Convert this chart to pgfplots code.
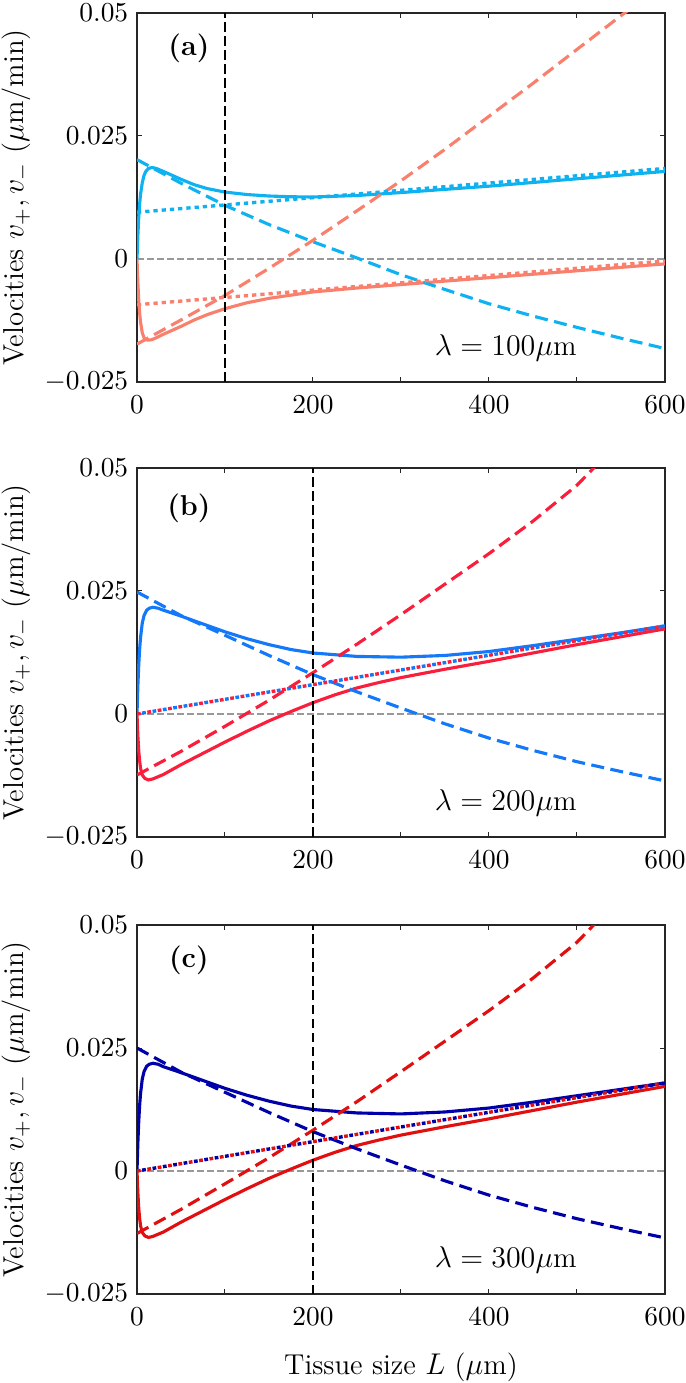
\documentclass[border=0pt]{standalone}
\usepackage{pgfplots}
\pgfplotsset{compat=1.18}
\definecolor{ablue}{RGB}{15,178,240}
\definecolor{ared}{RGB}{250,128,110}
\definecolor{bblue}{RGB}{20,120,250}
\definecolor{bred}{RGB}{250,30,60}
\definecolor{cblue}{RGB}{0,0,170}
\definecolor{cred}{RGB}{225,15,15}
\pgfplotsset{
 panel/.style={
  scale only axis, width=211.2pt, height=147.6pt,
  xmin=0,xmax=600,ymin=-0.025,ymax=0.05,
  xtick={0,200,400,600}, minor xtick={100,300,500},
  ytick={-0.025,0,0.025,0.05},
  yticklabels={$-0.025$,$0$,$0.025$,$0.05$},
  scaled y ticks=false,
  tick align=inside,
  major tick length=2pt, minor tick length=2pt,
  tick style={black!85, line width=0.4pt},
  axis line style={black!85, line width=0.5pt},
  ticklabel style={font=\fontsize{11}{13}\selectfont},
  xticklabel style={yshift=-2pt},
  ylabel={Velocities $v_+, v_-$ ($\mu$m/min)},
  ylabel style={font=\fontsize{11.5}{13}\selectfont, at={(axis description cs:-0.229,0.5)}, anchor=center},
  clip=true,
 },
 sol/.style={solid, line width=1.25pt},
 dsh/.style={dash pattern=on 5.2pt off 2.6pt, line width=1.25pt},
 dot/.style={dash pattern=on 1.7pt off 1.6pt, line width=1.35pt},
 dotr/.style={dash pattern=on 1.5pt off 2.7pt, line width=1.35pt},
 dotb/.style={dash pattern=on 1.5pt off 2.7pt, dash phase=2.1pt, line width=1.35pt},
 zero/.style={gray!80, line width=0.5pt, dash pattern=on 2.6pt off 1.4pt},
 vline/.style={black, line width=0.8pt, dash pattern=on 3.8pt off 1.8pt},
}
\begin{document}
\begin{tikzpicture}
% ---------------- panel (a) ----------------
\begin{axis}[panel, name=pa, at={(0,0)}, anchor=north west]
\addplot[zero] coordinates {(0,0) (600,0)};
% solid
\addplot[sol, ablue] coordinates {
(0,0) (1,0.0048) (2,0.0085) (3,0.0112) (4,0.0131) (6,0.0155) (8,0.0170) (10,0.0178) (13,0.0184) (17,0.0186) (22,0.0184)
(30,0.0178) (40,0.0170) (50,0.0162) (65,0.0151) (80,0.0143) (100,0.0136) (125,0.0131) (150,0.0128) (175,0.01265)
(200,0.0126) (250,0.0129) (300,0.0135) (350,0.01415) (400,0.0148) (450,0.01555) (500,0.0163) (550,0.01705) (600,0.0178)};
\addplot[sol, ared] coordinates {
(0,0) (1,-0.0048) (2,-0.0085) (3,-0.0110) (4,-0.0128) (6,-0.0150) (8,-0.0160) (10,-0.0164) (13,-0.0165) (17,-0.0164) (22,-0.0160)
(30,-0.0153) (40,-0.0145) (50,-0.0137) (65,-0.0124) (80,-0.0113) (100,-0.0101) (125,-0.0089) (150,-0.0080)
(200,-0.0067) (250,-0.0059) (300,-0.0052) (350,-0.0045) (400,-0.0038) (450,-0.0031) (500,-0.0024) (550,-0.0017) (600,-0.0010)};
% dashed
\addplot[dsh, ablue] coordinates {
(0,0.0202) (50,0.0154) (100,0.0109) (150,0.0070) (200,0.0035) (250,0.0002) (300,-0.0032) (350,-0.0062)
(400,-0.0091) (450,-0.0116) (500,-0.0139) (550,-0.0161) (600,-0.0182)};
\addplot[dsh, ared] coordinates {
(0,-0.0173) (50,-0.0124) (100,-0.0074) (150,-0.0019) (200,0.0038) (250,0.0098) (300,0.0159) (350,0.0223)
(400,0.0290) (450,0.0357) (500,0.0426) (554,0.0500) (560,0.0508)};
% dotted
\addplot[dot, ablue] coordinates {(0,0.0095) (300,0.01395) (600,0.0184)};
\addplot[dot, ared] coordinates {(0,-0.0093) (300,-0.00485) (600,-0.0004)};
\addplot[vline] coordinates {(100,-0.025) (100,0.05)};
\node[font=\fontsize{11.5}{13}\selectfont\bfseries] at (axis cs:59,0.0429) {(a)};
\node[font=\fontsize{11.5}{13}\selectfont] at (axis cs:419,-0.0181) {$\lambda = 100\mu$m};
\end{axis}
% ---------------- panel (b) ----------------
\begin{axis}[panel, name=pb, at={(0,-182pt)}, anchor=north west]
\addplot[zero] coordinates {(0,0) (600,0)};
\addplot[sol, bred] coordinates {
(0,0) (1,-0.0045) (2,-0.0075) (3,-0.0095) (4,-0.0110) (6,-0.0124) (9,-0.0131) (13,-0.0134) (18,-0.0132)
(30,-0.0123) (50,-0.0103) (75,-0.0080) (100,-0.0057) (125,-0.0035) (150,-0.0014) (175,0.0005) (200,0.0023)
(225,0.0039) (250,0.0053) (275,0.0064) (300,0.0074) (350,0.0091) (400,0.0107) (450,0.0124) (500,0.0141) (550,0.0157) (600,0.0173)};
\addplot[sol, bblue] coordinates {
(0,0) (1,0.0058) (2,0.0100) (3,0.0132) (4,0.0155) (6,0.0185) (8,0.0200) (11,0.0211) (14,0.0215) (18,0.0217) (24,0.0215)
(30,0.0211) (40,0.0205) (50,0.0199) (75,0.0183) (100,0.0167) (125,0.0153) (150,0.0141) (175,0.0131) (200,0.0124)
(250,0.0117) (300,0.01155) (350,0.0119) (400,0.0127) (450,0.0139) (500,0.0152) (550,0.0165) (600,0.0179)};
\addplot[dsh, bblue] coordinates {
(0,0.0248) (50,0.0200) (100,0.0160) (150,0.0119) (200,0.0080) (250,0.0045) (300,0.0012) (350,-0.0020)
(400,-0.0049) (450,-0.0074) (500,-0.0097) (550,-0.0117) (600,-0.0136)};
\addplot[dsh, bred] coordinates {
(0,-0.0124) (50,-0.0076) (100,-0.0025) (150,0.0028) (200,0.0084) (250,0.0142) (300,0.0202) (350,0.0264)
(400,0.0326) (450,0.0392) (500,0.0465) (519,0.0500) (525,0.0512)};
\addplot[dotr, bred] coordinates {(0,0) (300,0.00895) (600,0.0179)};
\addplot[dotb, bblue] coordinates {(0,0) (300,0.00895) (600,0.0179)};
\addplot[vline] coordinates {(200,-0.025) (200,0.05)};
\node[font=\fontsize{11.5}{13}\selectfont\bfseries] at (axis cs:59,0.0419) {(b)};
\node[font=\fontsize{11.5}{13}\selectfont] at (axis cs:419,-0.0181) {$\lambda = 200\mu$m};
\end{axis}
% ---------------- panel (c) ----------------
\begin{axis}[panel, name=pc, at={(0,-364.8pt)}, anchor=north west,
  xlabel={Tissue size $L$ ($\mu$m)},
  xlabel style={font=\fontsize{11.5}{13}\selectfont, yshift=-4pt}]
\addplot[zero] coordinates {(0,0) (600,0)};
\addplot[sol, cred] coordinates {
(0,0) (1,-0.0045) (2,-0.0076) (3,-0.0096) (4,-0.0111) (6,-0.0125) (9,-0.0132) (13,-0.0135) (18,-0.0133)
(30,-0.0124) (50,-0.0104) (75,-0.0081) (100,-0.0058) (125,-0.0036) (150,-0.0015) (175,0.0004) (200,0.0022)
(225,0.0038) (250,0.0052) (275,0.0063) (300,0.0073) (350,0.0090) (400,0.0106) (450,0.0123) (500,0.0140) (550,0.0156) (600,0.0172)};
\addplot[sol, cblue] coordinates {
(0,0) (1,0.0058) (2,0.0101) (3,0.0133) (4,0.0157) (6,0.0187) (8,0.0202) (11,0.0213) (14,0.0217) (18,0.0219) (24,0.0217)
(30,0.0212) (40,0.0206) (50,0.0200) (75,0.0184) (100,0.0168) (125,0.0154) (150,0.0142) (175,0.0132) (200,0.0125)
(250,0.0118) (300,0.0116) (350,0.0120) (400,0.0128) (450,0.0140) (500,0.0153) (550,0.0166) (600,0.0179)};
\addplot[dsh, cblue] coordinates {
(0,0.0250) (50,0.0201) (100,0.0160) (150,0.0119) (200,0.0080) (250,0.0045) (300,0.0012) (350,-0.0020)
(400,-0.0049) (450,-0.0074) (500,-0.0097) (550,-0.0117) (600,-0.0136)};
\addplot[dsh, cred] coordinates {
(0,-0.0127) (50,-0.0078) (100,-0.0026) (150,0.0027) (200,0.0083) (250,0.0141) (300,0.0202) (350,0.0264)
(400,0.0326) (450,0.0392) (500,0.0465) (519,0.0500) (525,0.0512)};
\addplot[dotr, cred] coordinates {(0,0) (300,0.00895) (600,0.0179)};
\addplot[dotb, cblue] coordinates {(0,0) (300,0.00895) (600,0.0179)};
\addplot[vline] coordinates {(200,-0.025) (200,0.05)};
\node[font=\fontsize{11.5}{13}\selectfont\bfseries] at (axis cs:59,0.0429) {(c)};
\node[font=\fontsize{11.5}{13}\selectfont] at (axis cs:419,-0.0181) {$\lambda = 300\mu$m};
\end{axis}
\pgfresetboundingbox
\path[use as bounding box] (-54.8pt,5.2pt) rectangle (219.2pt,-548pt);
\end{tikzpicture}
\end{document}
